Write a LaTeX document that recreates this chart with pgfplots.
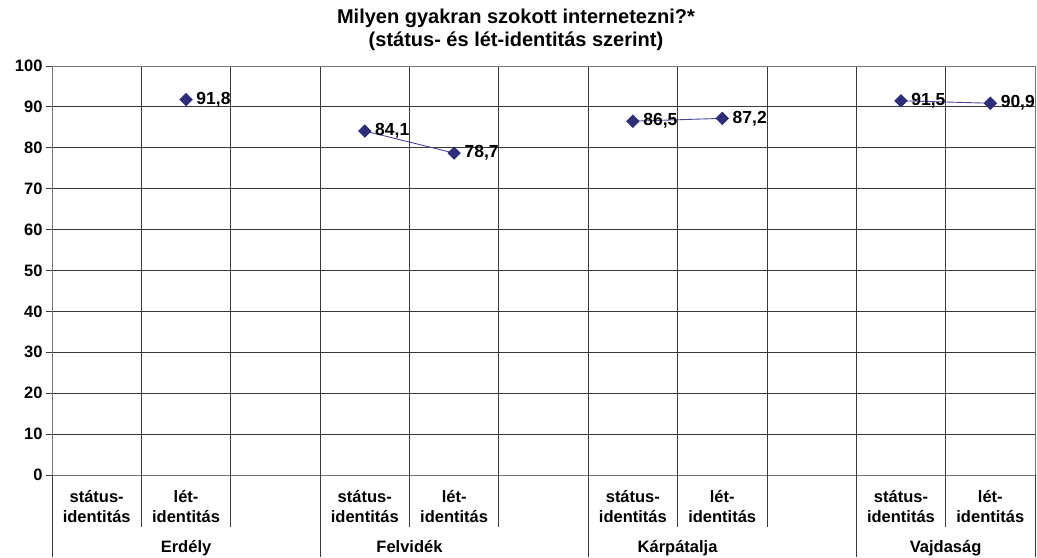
\documentclass[border=0pt]{standalone}
\usepackage{pgfplots}
\pgfplotsset{compat=1.18}
\usepackage{fontspec}
\setmainfont{Liberation Sans}

\definecolor{mk}{HTML}{2E2E78}
\definecolor{ln}{HTML}{4848A0}
\definecolor{gr}{HTML}{3A3A3A}

\newcommand{\lbl}{\bfseries\fontsize{16.5}{20}\selectfont}
\newcommand{\ttl}{\bfseries\fontsize{20}{24}\selectfont}

\pgfplotsset{dp/.style={ln, line width=0.9pt, mark=square*, mark size=4.3pt,
  mark options={mk, fill=mk, rotate=45, solid},
  nodes near coords, point meta=explicit symbolic,
  nodes near coords style={anchor=west, xshift=10pt, inner sep=0pt, text=black,
    font=\bfseries\fontsize{17.5}{20}\selectfont}}}

\begin{document}
\begin{tikzpicture}
\begin{axis}[
  scale only axis,
  width=983pt, height=409pt,
  xmin=-0.5, xmax=10.5, ymin=0, ymax=100,
  ytick={0,10,...,100},
  xtick={0,...,10},
  xticklabels={{státus-\\identitás},{lét-\\identitás},{},
               {státus-\\identitás},{lét-\\identitás},{},
               {státus-\\identitás},{lét-\\identitás},{},
               {státus-\\identitás},{lét-\\identitás}},
  minor xtick={0.5,1.5,...,9.5},
  xminorgrids, ymajorgrids,
  grid style={gr, line width=0.8pt},
  minor grid style={gr, line width=0.8pt},
  xtick style={draw=none},
  ytick pos=left, tick align=outside,
  ytick style={gr, line width=0.8pt},
  major tick length=6pt,
  axis line style={black!55, line width=0.8pt},
  tick label style={font=\lbl},
  xticklabel style={align=center, yshift=-6pt},
  /pgf/number format/assume math mode=true,
  clip=false,
]
\addplot[dp] coordinates {(1,91.8)[91,8]};
\addplot[dp] coordinates {(3,84.1)[84,1] (4,78.7)[78,7]};
\addplot[dp] coordinates {(6,86.5)[86,5] (7,87.2)[87,2]};
\addplot[dp] coordinates {(9,91.5)[91,5] (10,90.9)[90,9]};

\pgfplotsinvokeforeach{0.5,1.5,3.5,4.5,6.5,7.5,9.5}{
  \draw[gr, line width=0.8pt] (axis cs:#1,0) -- ++(0pt,-52pt);
}
\pgfplotsinvokeforeach{-0.5,2.5,5.5,8.5,10.5}{
  \draw[gr, line width=0.8pt] (axis cs:#1,0) -- ++(0pt,-82pt);
}
\node[font=\lbl, anchor=base] at (axis cs:1,0) [yshift=-77pt] {Erdély};
\node[font=\lbl, anchor=base] at (axis cs:3.5,0) [yshift=-77pt] {Felvidék};
\node[font=\lbl, anchor=base] at (axis cs:6.5,0) [yshift=-77pt] {Kárpátalja};
\node[font=\lbl, anchor=base] at (axis cs:9.5,0) [yshift=-77pt] {Vajdaság};

\node[font=\ttl, anchor=base] at (rel axis cs:0.472,1) [yshift=42pt] {Milyen gyakran szokott internetezni?*};
\node[font=\ttl, anchor=base] at (rel axis cs:0.472,1) [yshift=19pt] {(státus- és lét-identitás szerint)};

\coordinate (bl) at (rel axis cs:0,0);
\coordinate (tr) at (rel axis cs:1,1);
\end{axis}
\pgfresetboundingbox
\path[use as bounding box] ([shift={(-52pt,-82pt)}]bl) rectangle ([shift={(2pt,66pt)}]tr);
\end{tikzpicture}
\end{document}
